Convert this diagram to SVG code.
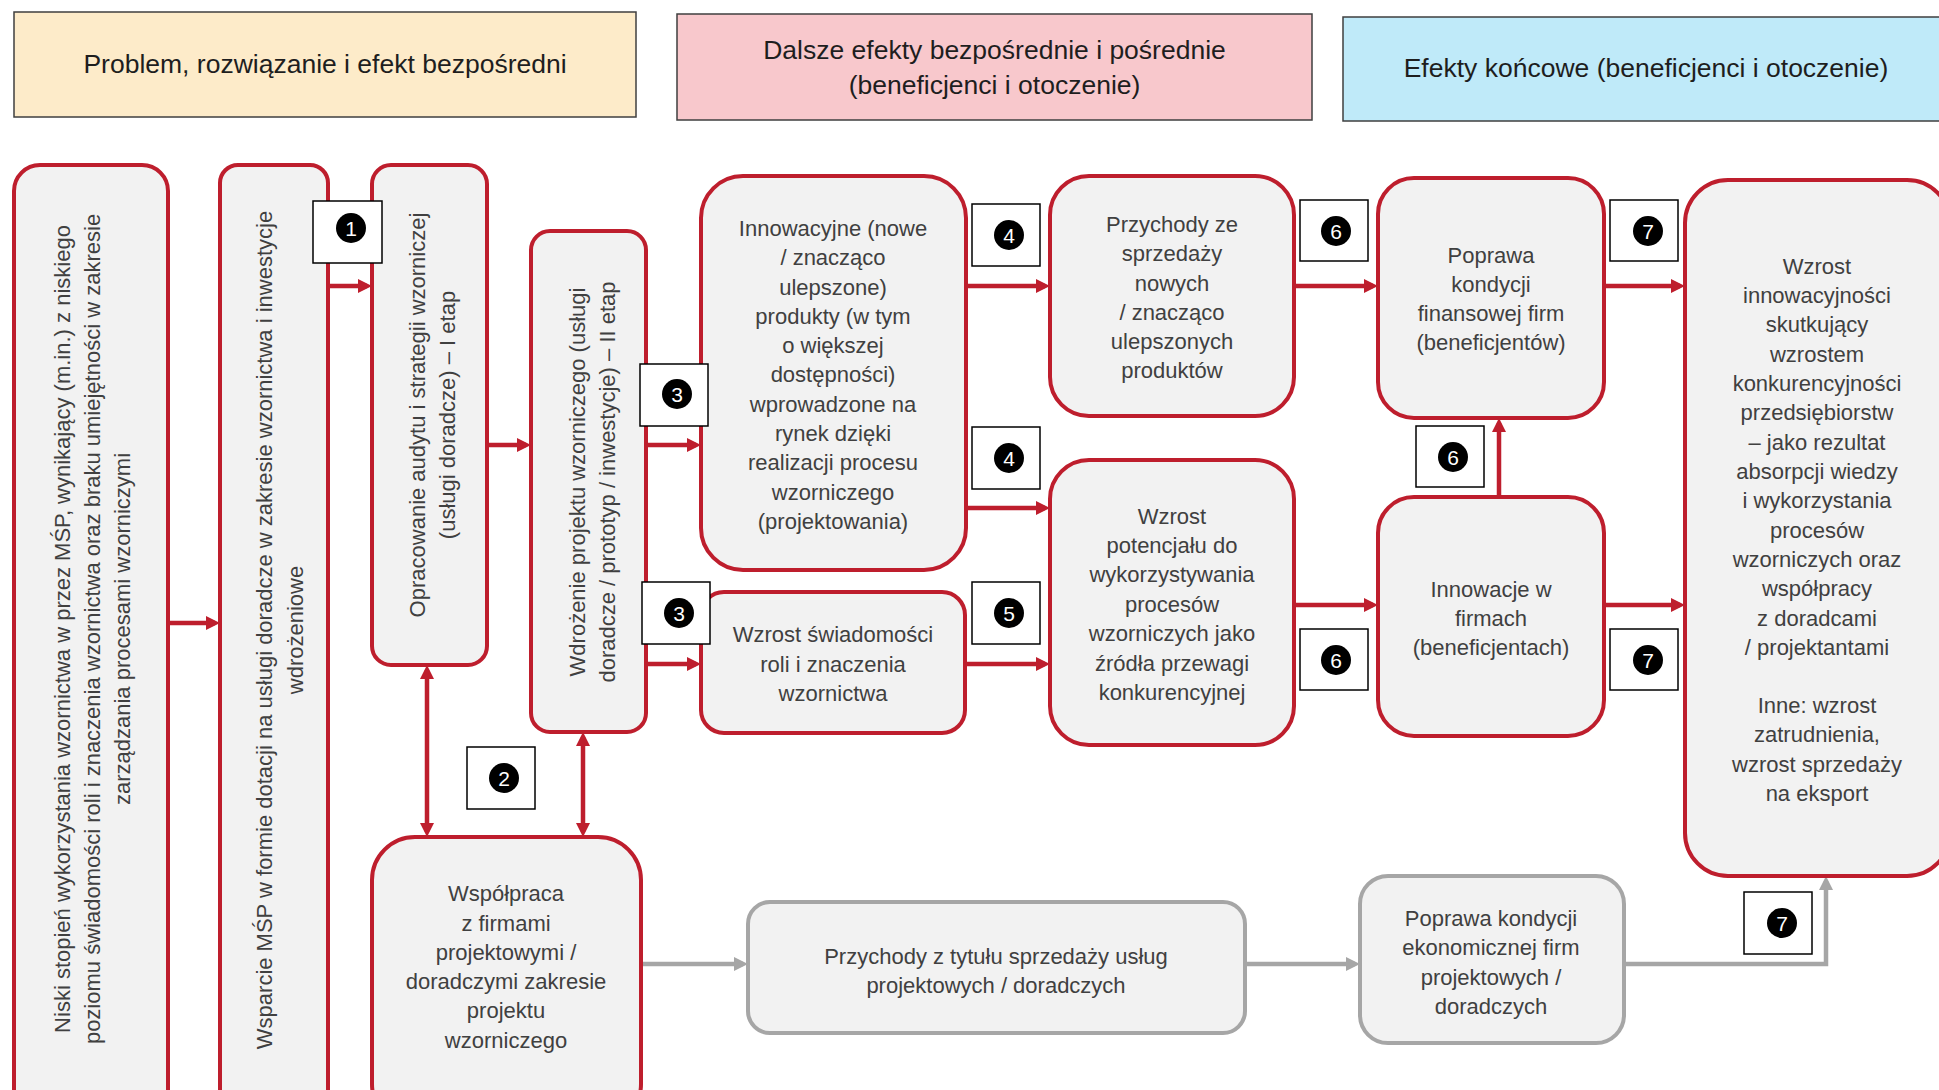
<svg xmlns="http://www.w3.org/2000/svg" width="1939" height="1090" viewBox="0 0 1939 1090">
<style>
text{font-family:"Liberation Sans",Arial,sans-serif}
.hdr{stroke:#3F3F3F;stroke-width:1.5}
.ht{font-size:26.5px;fill:#1E1E1E;text-anchor:middle}
.nd{fill:#F2F2F2;stroke:#BE1E2D;stroke-width:4}
.ng{fill:#F2F2F2;stroke:#A6A6A6;stroke-width:4}
.t{font-size:22px;fill:#404040;text-anchor:middle}
.cr{fill:none;stroke:#BE1E2D;stroke-width:4.5}
.cg{fill:none;stroke:#A6A6A6;stroke-width:4.5}
.lb{fill:#FFFFFF;stroke:#000000;stroke-width:1.5}
.num{font-size:21px;fill:#FFFFFF;text-anchor:middle}
</style>
<defs>
<marker id="ar" viewBox="0 0 14 14" refX="9" refY="7" markerWidth="14" markerHeight="14" markerUnits="userSpaceOnUse" orient="auto-start-reverse"><path d="M0,0 L14,7 L0,14 z" fill="#BE1E2D"/></marker>
<marker id="ag" viewBox="0 0 14 14" refX="9" refY="7" markerWidth="14" markerHeight="14" markerUnits="userSpaceOnUse" orient="auto-start-reverse"><path d="M0,0 L14,7 L0,14 z" fill="#A6A6A6"/></marker>
</defs>
<rect width="1939" height="1090" fill="#FFFFFF"/>

<g id="headers">
<g id="h1"><rect class="hdr" x="14" y="12" width="622" height="105" fill="#FDEBC9"/><text class="ht" x="325" y="73">Problem, rozwiązanie i efekt bezpośredni</text></g>
<g id="h2"><rect class="hdr" x="677" y="14" width="635" height="106" fill="#F8C8CC"/><text class="ht" x="994.5" y="59">Dalsze efekty bezpośrednie i pośrednie</text><text class="ht" x="994.5" y="94">(beneficjenci i otoczenie)</text></g>
<g id="h3"><rect class="hdr" x="1343" y="17" width="610" height="104" fill="#BFEAF9"/><text class="ht" x="1646" y="77">Efekty końcowe (beneficjenci i otoczenie)</text></g>
</g>

<g id="connectors">
<path class="cr" d="M168,623 H215" marker-end="url(#ar)"/>
<path class="cr" d="M328,286 H367" marker-end="url(#ar)"/>
<path class="cr" d="M487,445 H526" marker-end="url(#ar)"/>
<path class="cr" d="M646,445 H696" marker-end="url(#ar)"/>
<path class="cr" d="M646,664 H696" marker-end="url(#ar)"/>
<path class="cr" d="M966,286 H1045" marker-end="url(#ar)"/>
<path class="cr" d="M966,508 H1045" marker-end="url(#ar)"/>
<path class="cr" d="M965,664 H1045" marker-end="url(#ar)"/>
<path class="cr" d="M1294,286 H1373" marker-end="url(#ar)"/>
<path class="cr" d="M1294,605 H1373" marker-end="url(#ar)"/>
<path class="cr" d="M1499,497 V423" marker-end="url(#ar)"/>
<path class="cr" d="M1604,286 H1680" marker-end="url(#ar)"/>
<path class="cr" d="M1604,605 H1680" marker-end="url(#ar)"/>
<path class="cr" d="M427,670 V832" marker-start="url(#ar)" marker-end="url(#ar)"/>
<path class="cr" d="M583,737 V832" marker-start="url(#ar)" marker-end="url(#ar)"/>
<path class="cg" d="M641,964 H743" marker-end="url(#ag)"/>
<path class="cg" d="M1245,964 H1355" marker-end="url(#ag)"/>
<path class="cg" d="M1624,964 H1826 V881" marker-end="url(#ag)"/>
</g>

<g id="nA"><rect class="nd" x="14" y="165" width="154" height="960" rx="26"/>
<g transform="translate(92,629) rotate(-90)"><text class="t"><tspan x="0" y="-22">Niski stopień wykorzystania wzornictwa w przez MŚP, wynikający (m.in.) z niskiego</tspan><tspan x="0" y="8">poziomu świadomości roli i znaczenia wzornictwa oraz braku umiejętności  w zakresie</tspan><tspan x="0" y="38">zarządzania procesami wzorniczymi</tspan></text></g></g>

<g id="nB"><rect class="nd" x="220" y="165" width="108" height="960" rx="18"/>
<g transform="translate(279.5,630) rotate(-90)"><text class="t"><tspan x="0" y="-7.5">Wsparcie MŚP w formie dotacji na usługi doradcze w zakresie wzornictwa i inwestycje</tspan><tspan x="0" y="23.5">wdrożeniowe</tspan></text></g></g>

<g id="nC"><rect class="nd" x="372" y="165" width="115" height="500" rx="19"/>
<g transform="translate(432,415) rotate(-90)"><text class="t"><tspan x="0" y="-7">Opracowanie audytu i strategii wzorniczej</tspan><tspan x="0" y="23">(usługi doradcze) – I etap</tspan></text></g></g>

<g id="nD"><rect class="nd" x="531" y="231" width="115" height="501" rx="19"/>
<g transform="translate(592,482) rotate(-90)"><text class="t"><tspan x="0" y="-7">Wdrożenie projektu wzorniczego (usługi</tspan><tspan x="0" y="23">doradcze / prototyp / inwestycje) – II etap</tspan></text></g></g>

<g id="nE"><rect class="nd" x="701" y="176" width="265" height="394" rx="42"/>
<text class="t"><tspan x="833" y="236">Innowacyjne (nowe</tspan><tspan x="833" y="265">/ znacząco</tspan><tspan x="833" y="295">ulepszone)</tspan><tspan x="833" y="324">produkty (w tym</tspan><tspan x="833" y="353">o większej</tspan><tspan x="833" y="382">dostępności)</tspan><tspan x="833" y="412">wprowadzone na</tspan><tspan x="833" y="441">rynek dzięki</tspan><tspan x="833" y="470">realizacji procesu</tspan><tspan x="833" y="500">wzorniczego</tspan><tspan x="833" y="529">(projektowania)</tspan></text></g>

<g id="nF"><rect class="nd" x="701" y="592" width="264" height="141" rx="23"/>
<text class="t"><tspan x="833" y="642">Wzrost świadomości</tspan><tspan x="833" y="672">roli i znaczenia</tspan><tspan x="833" y="701">wzornictwa</tspan></text></g>

<g id="nG"><rect class="nd" x="1050" y="176" width="244" height="240" rx="39"/>
<text class="t"><tspan x="1172" y="232">Przychody ze</tspan><tspan x="1172" y="261">sprzedaży</tspan><tspan x="1172" y="291">nowych</tspan><tspan x="1172" y="320">/ znacząco</tspan><tspan x="1172" y="349">ulepszonych</tspan><tspan x="1172" y="378">produktów</tspan></text></g>

<g id="nH"><rect class="nd" x="1050" y="460" width="244" height="285" rx="39"/>
<text class="t"><tspan x="1172" y="524">Wzrost</tspan><tspan x="1172" y="553">potencjału do</tspan><tspan x="1172" y="582">wykorzystywania</tspan><tspan x="1172" y="612">procesów</tspan><tspan x="1172" y="641">wzorniczych jako</tspan><tspan x="1172" y="671">źródła przewagi</tspan><tspan x="1172" y="700">konkurencyjnej</tspan></text></g>

<g id="nI"><rect class="nd" x="1378" y="178" width="226" height="240" rx="36"/>
<text class="t"><tspan x="1491" y="263">Poprawa</tspan><tspan x="1491" y="292">kondycji</tspan><tspan x="1491" y="321">finansowej firm</tspan><tspan x="1491" y="350">(beneficjentów)</tspan></text></g>

<g id="nJ"><rect class="nd" x="1378" y="497" width="226" height="239" rx="36"/>
<text class="t"><tspan x="1491" y="597">Innowacje w</tspan><tspan x="1491" y="626">firmach</tspan><tspan x="1491" y="655">(beneficjentach)</tspan></text></g>

<g id="nK"><rect class="nd" x="1685" y="180" width="265" height="696" rx="43"/>
<text class="t"><tspan x="1817" y="274">Wzrost</tspan><tspan x="1817" y="303">innowacyjności</tspan><tspan x="1817" y="332">skutkujący</tspan><tspan x="1817" y="362">wzrostem</tspan><tspan x="1817" y="391">konkurencyjności</tspan><tspan x="1817" y="420">przedsiębiorstw</tspan><tspan x="1817" y="450">– jako rezultat</tspan><tspan x="1817" y="479">absorpcji wiedzy</tspan><tspan x="1817" y="508">i wykorzystania</tspan><tspan x="1817" y="538">procesów</tspan><tspan x="1817" y="567">wzorniczych oraz</tspan><tspan x="1817" y="596">współpracy</tspan><tspan x="1817" y="626">z doradcami</tspan><tspan x="1817" y="655">/ projektantami</tspan><tspan x="1817" y="713">Inne: wzrost</tspan><tspan x="1817" y="742">zatrudnienia,</tspan><tspan x="1817" y="772">wzrost sprzedaży</tspan><tspan x="1817" y="801">na eksport</tspan></text></g>

<g id="nL"><rect class="nd" x="372" y="837" width="269" height="290" rx="43"/>
<text class="t"><tspan x="506" y="901">Współpraca</tspan><tspan x="506" y="931">z firmami</tspan><tspan x="506" y="960">projektowymi /</tspan><tspan x="506" y="989">doradczymi zakresie</tspan><tspan x="506" y="1018">projektu</tspan><tspan x="506" y="1048">wzorniczego</tspan></text></g>

<g id="nM"><rect class="ng" x="748" y="902" width="497" height="131" rx="22"/>
<text class="t"><tspan x="996" y="964">Przychody z tytułu sprzedaży usług</tspan><tspan x="996" y="993">projektowych / doradczych</tspan></text></g>

<g id="nN"><rect class="ng" x="1360" y="876" width="264" height="167" rx="28"/>
<text class="t"><tspan x="1491" y="926">Poprawa kondycji</tspan><tspan x="1491" y="955">ekonomicznej firm</tspan><tspan x="1491" y="985">projektowych /</tspan><tspan x="1491" y="1014">doradczych</tspan></text></g>

<g id="labels">
<g><rect class="lb" x="313" y="201" width="69" height="62"/><circle cx="351" cy="228" r="15"/><text class="num" x="351" y="235.5">1</text></g>
<g><rect class="lb" x="467" y="747" width="68" height="62"/><circle cx="504" cy="778" r="15"/><text class="num" x="504" y="785.5">2</text></g>
<g><rect class="lb" x="640" y="364" width="68" height="62"/><circle cx="677" cy="394" r="15"/><text class="num" x="677" y="401.5">3</text></g>
<g><rect class="lb" x="642" y="582" width="68" height="62"/><circle cx="679" cy="613" r="15"/><text class="num" x="679" y="620.5">3</text></g>
<g><rect class="lb" x="972" y="204" width="68" height="62"/><circle cx="1009" cy="235" r="15"/><text class="num" x="1009" y="242.5">4</text></g>
<g><rect class="lb" x="972" y="427" width="68" height="62"/><circle cx="1009" cy="458" r="15"/><text class="num" x="1009" y="465.5">4</text></g>
<g><rect class="lb" x="972" y="582" width="68" height="62"/><circle cx="1009" cy="613" r="15"/><text class="num" x="1009" y="620.5">5</text></g>
<g><rect class="lb" x="1300" y="200" width="68" height="61"/><circle cx="1336" cy="231" r="15"/><text class="num" x="1336" y="238.5">6</text></g>
<g><rect class="lb" x="1416" y="426" width="68" height="61"/><circle cx="1453" cy="457" r="15"/><text class="num" x="1453" y="464.5">6</text></g>
<g><rect class="lb" x="1300" y="629" width="68" height="61"/><circle cx="1336" cy="660" r="15"/><text class="num" x="1336" y="667.5">6</text></g>
<g><rect class="lb" x="1610" y="200" width="68" height="61"/><circle cx="1648" cy="231" r="15"/><text class="num" x="1648" y="238.5">7</text></g>
<g><rect class="lb" x="1610" y="629" width="68" height="61"/><circle cx="1648" cy="660" r="15"/><text class="num" x="1648" y="667.5">7</text></g>
<g><rect class="lb" x="1744" y="892" width="68" height="62"/><circle cx="1782" cy="923" r="15"/><text class="num" x="1782" y="930.5">7</text></g>
</g>
</svg>
